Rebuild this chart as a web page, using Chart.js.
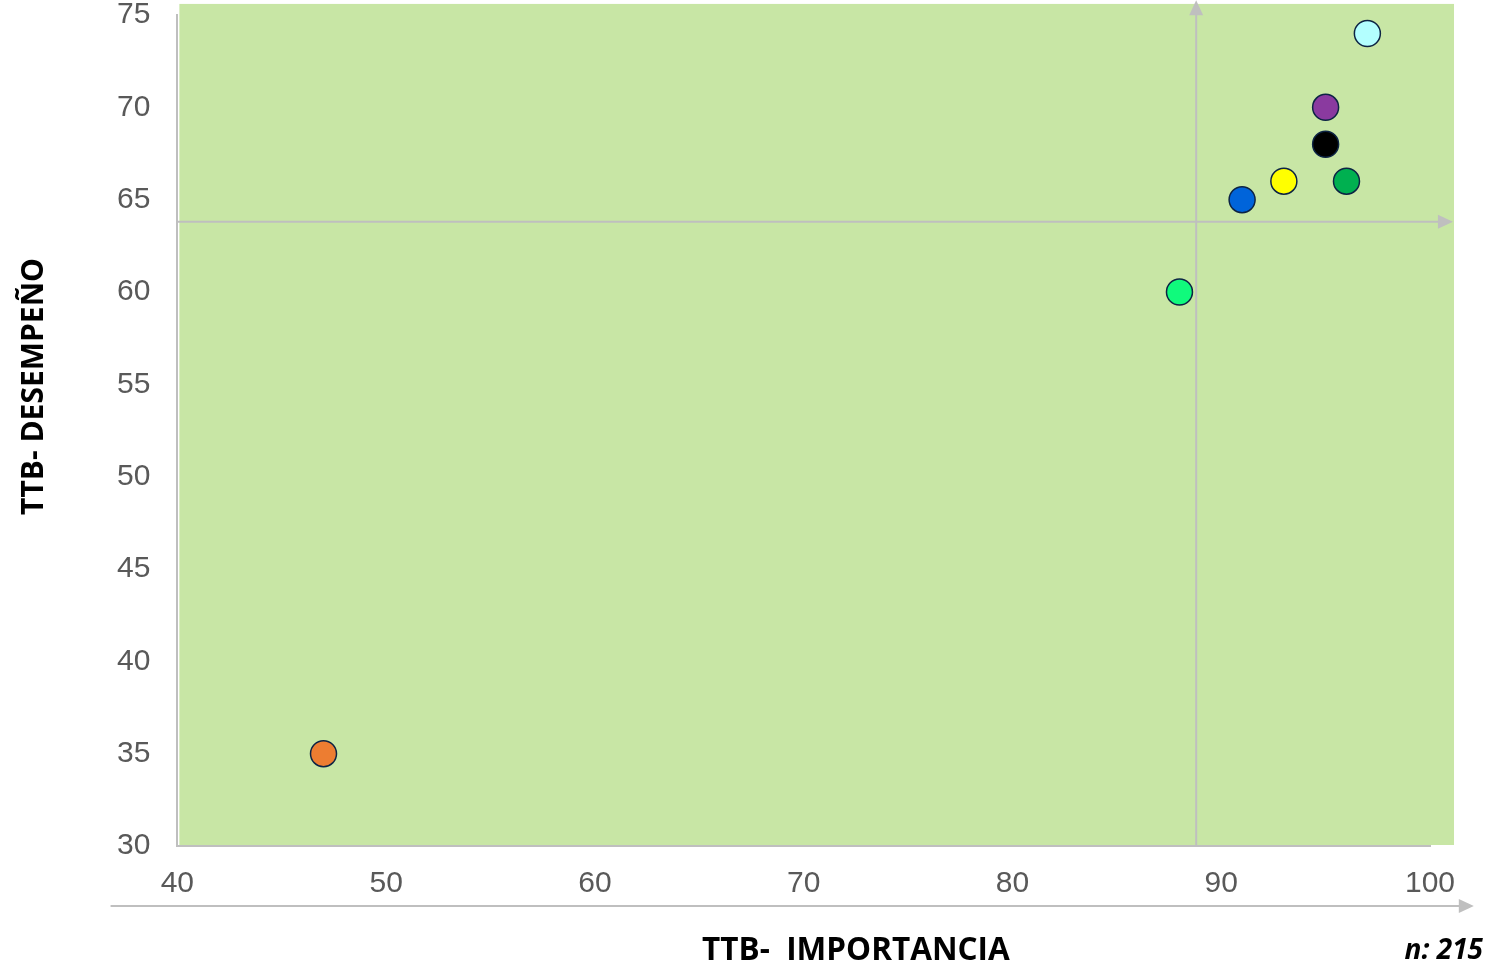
<!DOCTYPE html>
<html lang="es">
<head>
    <meta charset="UTF-8">
    <title>TTB Importancia vs Desempeño</title>
    <script src="https://cdn.jsdelivr.net/npm/chart.js@4.4.1/dist/chart.umd.min.js"></script>
    <style>
        html, body { margin: 0; padding: 0; background: #ffffff; }
        #wrap { width: 1486px; height: 972px; position: relative; }
    </style>
</head>
<body>
    <div id="wrap"><canvas id="matriz"></canvas></div>

    <script>
        // datos
        const importancia = [97, 95, 95, 93, 96, 91, 88, 47];
        const desempeno = [74, 70, 68, 66, 66, 65, 60, 35];
        const colores = ['#B3FFFF', '#8A3A9F', '#000000', '#FFFF00', '#00B050', '#0064DA', '#10FA7C', '#ED7D31'];

        const xTicks = [40, 50, 60, 70, 80, 90, 100];
        const yTicks = [30, 35, 40, 45, 50, 55, 60, 65, 70, 75];

        // cruce de cuadrantes
        const corteX = 88.8;
        const corteY = 63.8;

        const tituloX = 'TTB-  IMPORTANCIA';
        const tituloY = 'TTB- DESEMPEÑO';
        const muestra = 'n: 215';

        const gris = '#BFBFBF';
        const fondo = '#C8E6A5';

        function flecha(ctx, x, y, dir) {
            ctx.beginPath();
            if (dir === 'right') {
                ctx.moveTo(x, y);
                ctx.lineTo(x - 15, y - 7);
                ctx.lineTo(x - 15, y + 7);
            } else {
                ctx.moveTo(x, y);
                ctx.lineTo(x - 7, y + 15);
                ctx.lineTo(x + 7, y + 15);
            }
            ctx.closePath();
            ctx.fill();
        }

        const cuadrantes = {
            id: 'cuadrantes',
            beforeDraw(chart) {
                const { ctx, chartArea, scales } = chart;
                const x = scales.x, y = scales.y;
                ctx.save();
                ctx.fillStyle = fondo;
                const left = chartArea.left + 2;
                const right = x.getPixelForValue(101.15);
                const top = y.getPixelForValue(75.6);
                ctx.fillRect(left, top, right - left, chartArea.bottom - 1 - top);
                ctx.restore();
            },
            beforeDatasetsDraw(chart) {
                const { ctx, chartArea, scales } = chart;
                const x = scales.x, y = scales.y;
                ctx.save();
                ctx.strokeStyle = gris;
                ctx.fillStyle = gris;
                ctx.lineWidth = 2;

                // línea horizontal
                const hy = y.getPixelForValue(corteY);
                const hEnd = x.getPixelForValue(101.1);
                ctx.beginPath();
                ctx.moveTo(chartArea.left, hy);
                ctx.lineTo(hEnd - 10, hy);
                ctx.stroke();
                flecha(ctx, hEnd, hy, 'right');

                // línea vertical
                const vx = x.getPixelForValue(corteX);
                const vTop = y.getPixelForValue(75.8);
                ctx.beginPath();
                ctx.moveTo(vx, chartArea.bottom);
                ctx.lineTo(vx, vTop + 10);
                ctx.stroke();
                flecha(ctx, vx, vTop, 'up');

                ctx.restore();
            },
            afterDraw(chart) {
                const { ctx, chartArea, scales } = chart;
                const x = scales.x;
                ctx.save();

                // eje inferior con flecha
                ctx.strokeStyle = gris;
                ctx.fillStyle = gris;
                ctx.lineWidth = 2;
                const by = chartArea.bottom + 60;
                const bStart = x.getPixelForValue(36.8);
                const bEnd = x.getPixelForValue(102.1);
                ctx.beginPath();
                ctx.moveTo(bStart, by);
                ctx.lineTo(bEnd - 10, by);
                ctx.stroke();
                flecha(ctx, bEnd, by, 'right');

                // títulos
                ctx.fillStyle = '#000000';
                ctx.font = 'bold 31.5px "Open Sans"';
                ctx.textAlign = 'center';
                ctx.textBaseline = 'middle';
                ctx.fillText(tituloX, x.getPixelForValue(72.5), chartArea.bottom + 105);

                ctx.font = 'bold 30px "Open Sans"';
                ctx.save();
                ctx.translate(34, (chartArea.top + chartArea.bottom) / 2 - 44);
                ctx.rotate(-Math.PI / 2);
                ctx.fillText(tituloY, 0, 0);
                ctx.restore();

                ctx.font = 'italic bold 28px "Open Sans"';
                ctx.textAlign = 'right';
                ctx.fillText(muestra, chart.width - 3, chartArea.bottom + 105);
                ctx.restore();
            }
        };

        new Chart(document.getElementById('matriz'), {
            type: 'scatter',
            data: {
                datasets: [{
                    data: importancia.map((v, i) => ({ x: v, y: desempeno[i] })),
                    backgroundColor: colores,
                    borderColor: '#0D2444',
                    borderWidth: 1.5,
                    pointRadius: 13,
                    pointHoverRadius: 13
                }]
            },
            options: {
                responsive: true,
                maintainAspectRatio: false,
                animation: false,
                events: [],
                layout: {
                    autoPadding: false,
                    padding: { left: 117, right: 56, top: 15, bottom: 73 }
                },
                plugins: {
                    legend: { display: false },
                    tooltip: { enabled: false }
                },
                scales: {
                    x: {
                        type: 'linear',
                        min: 40,
                        max: 100,
                        afterBuildTicks: (s) => { s.ticks = xTicks.map(v => ({ value: v })); },
                        grid: { display: false, drawTicks: true, tickLength: 23 },
                        border: { display: true, color: gris, width: 2 },
                        ticks: {
                            padding: 0,
                            color: '#595959',
                            font: { family: '"Liberation Sans", Arial', size: 30, lineHeight: 1 }
                        }
                    },
                    y: {
                        type: 'linear',
                        min: 30,
                        max: 75,
                        afterBuildTicks: (s) => { s.ticks = yTicks.map(v => ({ value: v })); },
                        grid: { display: false, drawTicks: true, tickLength: 27 },
                        border: { display: true, color: gris, width: 2 },
                        ticks: {
                            padding: 0,
                            color: '#595959',
                            font: { family: '"Liberation Sans", Arial', size: 30, lineHeight: 1 }
                        }
                    }
                }
            },
            plugins: [cuadrantes]
        });
    </script>
</body>
</html>
